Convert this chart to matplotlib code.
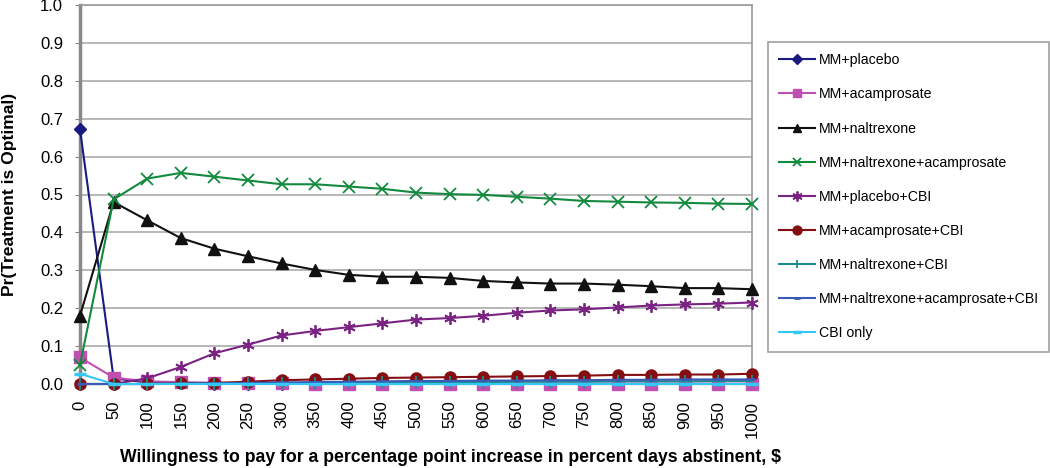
import matplotlib
matplotlib.use("Agg")
import matplotlib.pyplot as plt

plt.rcParams['font.family'] = ['Liberation Sans', 'DejaVu Sans']

wtp = ['0', '50', '100', '150', '200', '250', '300', '350', '400', '450', '500',
       '550', '600', '650', '700', '750', '800', '850', '900', '950', '1000']

mm_placebo = [0.672, 0.015, 0.004, 0.002, 0.001, 0.001, 0.001, 0.0, 0.0, 0.0, 0.0,
              0.0, 0.0, 0.0, 0.0, 0.0, 0.0, 0.0, 0.0, 0.0, 0.0]
mm_acamprosate = [0.07, 0.017, 0.007, 0.005, 0.003, 0.002, 0.002, 0.001, 0.001, 0.001, 0.001,
                  0.001, 0.001, 0.001, 0.001, 0.001, 0.001, 0.001, 0.001, 0.001, 0.001]
mm_naltrexone = [0.18, 0.48, 0.432, 0.385, 0.357, 0.337, 0.318, 0.301, 0.288, 0.283, 0.283,
                 0.28, 0.272, 0.268, 0.265, 0.265, 0.262, 0.258, 0.253, 0.253, 0.25]
mm_nal_acamp = [0.05, 0.487, 0.542, 0.557, 0.547, 0.537, 0.527, 0.527, 0.521, 0.515, 0.505,
                0.501, 0.499, 0.494, 0.489, 0.483, 0.481, 0.479, 0.478, 0.476, 0.475]
mm_placebo_cbi = [0.0, 0.0, 0.015, 0.045, 0.081, 0.104, 0.128, 0.14, 0.15, 0.16, 0.17,
                  0.174, 0.18, 0.188, 0.194, 0.197, 0.202, 0.207, 0.21, 0.212, 0.215]
mm_acamp_cbi = [0.0, 0.0, 0.0, 0.002, 0.003, 0.006, 0.01, 0.012, 0.014, 0.016, 0.017,
                0.018, 0.019, 0.02, 0.021, 0.022, 0.024, 0.024, 0.025, 0.025, 0.027]
mm_nal_cbi = [0.0, 0.0, 0.0, 0.001, 0.001, 0.002, 0.003, 0.003, 0.004, 0.004, 0.005,
              0.005, 0.005, 0.006, 0.006, 0.006, 0.007, 0.007, 0.007, 0.008, 0.008]
mm_nal_acamp_cbi = [0.0, 0.0, 0.0, 0.001, 0.002, 0.003, 0.004, 0.005, 0.006, 0.007, 0.008,
                    0.008, 0.009, 0.009, 0.01, 0.01, 0.011, 0.011, 0.012, 0.012, 0.012]
cbi_only = [0.027, 0.0, 0.0, 0.0, 0.0, 0.0, 0.0, 0.0, 0.0, 0.0, 0.0,
            0.0, 0.0, 0.0, 0.0, 0.0, 0.0, 0.0, 0.0, 0.0, 0.0]

yticks = [0.0, 0.1, 0.2, 0.3, 0.4, 0.5, 0.6, 0.7, 0.8, 0.9, 1.0]

fig = plt.figure(figsize=(10.5, 4.68), dpi=100)
L, R, T, B = 80, 752, 5, 384
ax = fig.add_axes([L/1050, 1-B/468, (R-L)/1050, (B-T)/468])

x = list(range(len(wtp)))
series = [
    ("MM+placebo", mm_placebo, dict(color='#1A1A80', marker='D', ms=6)),
    ("MM+acamprosate", mm_acamprosate, dict(color='#C050B0', marker='s', ms=8)),
    ("MM+naltrexone", mm_naltrexone, dict(color='#111111', marker='^', ms=8)),
    ("MM+naltrexone+acamprosate", mm_nal_acamp, dict(color='#128A3E', marker='x', ms=8, mew=1.3)),
    ("MM+placebo+CBI", mm_placebo_cbi, dict(color='#7A2382', marker=(6, 2, 0), ms=9, mew=1.3)),
    ("MM+acamprosate+CBI", mm_acamp_cbi, dict(color='#850E12', marker='o', ms=8)),
    ("MM+naltrexone+CBI", mm_nal_cbi, dict(color='#1E8C8C', marker='|', ms=8, mew=1.3)),
    ("MM+naltrexone+acamprosate+CBI", mm_nal_acamp_cbi, dict(color='#3A5BB5', marker='_', ms=5, mew=2)),
    ("CBI only", cbi_only, dict(color='#33C8F5', marker='_', ms=8, mew=2.5)),
]
for name, vals, st in series:
    ax.plot(x, vals, lw=1.5, label=name, clip_on=False, zorder=3, **st)

ax.set_xlim(0, 20)
ax.set_ylim(0, 1.0)
ax.set_yticks(yticks)
ax.set_yticklabels([f"{v:.1f}" for v in yticks], fontsize=12)
ax.set_xticks(x)
ax.set_xticklabels(wtp, rotation=90, fontsize=12)
ax.grid(axis='y', color='#AAAAAA', lw=1.2)
ax.set_axisbelow(True)
ax.spines['top'].set_color('#999999')
ax.spines['top'].set_linewidth(1.2)
ax.spines['left'].set_color('#888888')
ax.spines['left'].set_linewidth(2.5)
ax.spines['right'].set_color('#999999')
ax.spines['right'].set_linewidth(1.2)
ax.spines['bottom'].set_color('#999999')
ax.spines['bottom'].set_linewidth(1.2)
ax.tick_params(axis='y', length=3.6, color='#888888', pad=8.6)
ax.tick_params(axis='x', length=0, pad=12)

ax.set_ylabel("Pr(Treatment is Optimal)", fontsize=12.6, fontweight='bold')
ax.yaxis.set_label_coords((10 - L) / (R - L), 0.5)
ax.set_xlabel("Willingness to pay for a percentage point increase in percent days abstinent, $",
              fontsize=12.7, fontweight='bold')
ax.xaxis.set_label_coords((450 - L) / (R - L), (B - 458) / (B - T))
ax.xaxis.label.set_va('center')
ax.yaxis.label.set_va('center')

leg = fig.legend(loc='upper left', bbox_to_anchor=(768/1050, 1-358/468, 281/1050, 316/468),
                 mode='expand', fontsize=10.2, labelspacing=1.42, handlelength=2.5,
                 handletextpad=0.3, borderpad=0.8, frameon=True, fancybox=False,
                 edgecolor='#888888', borderaxespad=0)
leg.get_frame().set_linewidth(1.2)
for h in leg.legend_handles:
    h.set_markersize(h.get_markersize() * 0.8)

fig.savefig("out.png", dpi=100)
